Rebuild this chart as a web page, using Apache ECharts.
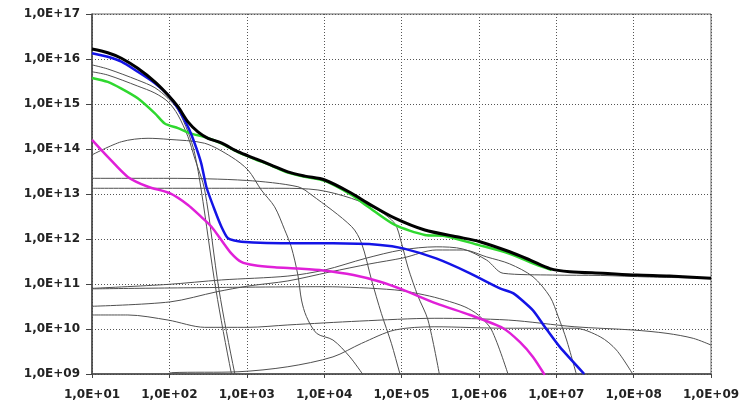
<!DOCTYPE html>
<html>
<head>
<meta charset="utf-8">
<script src="https://cdn.jsdelivr.net/npm/echarts@6/dist/echarts.min.js"></script>
<style>
    html, body { margin: 0; padding: 0; background: #fff; }
    #chart { width: 754px; height: 407px; }
</style>
</head>
<body>
<div id="chart"></div>
<script>
    // tick labels (decades)
    let xTickLabels = ['1,0E+01', '1,0E+02', '1,0E+03', '1,0E+04', '1,0E+05', '1,0E+06', '1,0E+07', '1,0E+08', '1,0E+09'];
    let yTickLabels = ['1,0E+09', '1,0E+10', '1,0E+11', '1,0E+12', '1,0E+13', '1,0E+14', '1,0E+15', '1,0E+16', '1,0E+17'];

    // total (thick black)
    let totalData = [
        [10, 1.67e16], [16, 1.38e16], [24, 1.04e16], [39, 6.2e15], [65, 3.1e15], [96, 1.58e15],
        [129, 8.7e14], [174, 4.0e14], [234, 2.4e14], [316, 1.73e14], [469, 1.37e14], [770, 8.7e13],
        [1260, 6.2e13], [2070, 4.4e13], [3400, 3.1e13], [5650, 2.5e13], [1.02e4, 2.05e13], [2.26e4, 1.04e13],
        [3.7e4, 6.2e12], [8.2e4, 2.9e12], [2.0e5, 1.58e12], [5.2e5, 1.12e12], [1.03e6, 8.7e11], [2.5e6, 5.2e11],
        [4.6e6, 3.4e11], [8.3e6, 2.2e11], [1.5e7, 1.88e11], [4.0e7, 1.73e11], [1.09e8, 1.58e11], [2.9e8, 1.5e11],
        [1e9, 1.34e11]
    ];
    // blue group
    let blueData = [
        [10, 1.34e16], [16, 1.12e16], [24, 8.7e15], [39, 5.2e15], [65, 2.9e15], [96, 1.6e15],
        [129, 8.0e14], [174, 3.1e14], [212, 1.34e14], [258, 4.8e13], [301, 1.43e13],
        [385, 4.4e12], [469, 1.9e12], [572, 1.04e12], [849, 8.7e11], [4580, 8.0e11], [1.3e4, 8.0e11],
        [5.3e4, 7.4e11], [1.05e5, 6.2e11], [2.8e5, 3.7e11], [7.7e5, 1.73e11], [1.87e6, 8.0e10],
        [2.8e6, 6.2e10], [5.0e6, 2.6e10], [7.1e6, 1.12e10], [1.11e7, 4.0e9], [2.3e7, 1.0e9]
    ];
    // green group
    let greenData = [
        [10, 3.8e15], [16, 3.1e15], [24, 2.2e15], [39, 1.34e15], [65, 6.2e14], [87, 3.7e14],
        [129, 2.9e14], [192, 2.2e14], [286, 1.85e14], [469, 1.33e14], [770, 8.5e13], [1260, 6.0e13],
        [2070, 4.3e13], [3400, 3.0e13], [5650, 2.4e13], [1.02e4, 1.95e13], [2.26e4, 9.5e12], [3.7e4, 5.2e12],
        [8.2e4, 2.05e12], [2.0e5, 1.23e12], [3.6e5, 1.17e12], [9.8e5, 7.4e11], [2.4e6, 4.8e11],
        [5.8e6, 2.6e11], [8.7e6, 2.05e11]
    ];
    // magenta group
    let magentaData = [
        [10, 1.6e14], [16, 6.7e13], [29, 2.4e13], [53, 1.45e13], [101, 1.04e13], [174, 5.7e12],
        [258, 3.1e12], [348, 1.9e12], [469, 9.5e11], [631, 4.8e11], [849, 3.1e11], [1260, 2.6e11],
        [2290, 2.35e11], [4580, 2.2e11], [9700, 2.0e11], [2.4e4, 1.58e11], [5.3e4, 1.12e11], [1.05e5, 7.4e10],
        [2.8e5, 3.7e10], [7.7e5, 2.05e10], [2.06e6, 1.04e10], [3.4e6, 5.1e9], [5.0e6, 2.4e9], [7.1e6, 9.5e8]
    ];

    // individual nuclides (thin grey)
    let nuclideA = [
        [10, 7.4e15], [16, 6.0e15], [39, 3.4e15], [65, 2.3e15], [96, 1.34e15], [129, 7.4e14],
        [174, 2.4e14], [212, 8.1e13], [258, 1.23e13], [400, 7.4e10], [631, 1.05e9], [700, 6e8]
    ];
    let nuclideB = [
        [10, 5.2e15], [16, 4.4e15], [39, 2.5e15], [65, 1.75e15], [96, 1.12e15], [129, 5.7e14],
        [174, 1.87e14], [212, 6.3e13], [286, 1.23e13], [438, 7.4e10], [698, 1.05e9], [780, 6e8]
    ];
    let nuclideC = [
        [10, 7.4e13], [24, 1.45e14], [53, 1.73e14], [96, 1.64e14], [286, 1.34e14], [631, 6.7e13],
        [1040, 3.4e13], [1540, 1.23e13], [2290, 5.2e12], [3090, 1.6e12], [3760, 6.7e11], [4580, 1.58e11],
        [5100, 4.4e10], [5900, 1.9e10], [8000, 8.0e9], [1.3e4, 5.7e9], [2.15e4, 2.4e9], [3.2e4, 9.5e8]
    ];
    let nuclideH1 = [
        [10, 2.23e13], [96, 2.23e13], [1000, 2.0e13], [4580, 1.45e13], [6900, 9.5e12], [2.26e4, 1.9e12],
        [3.05e4, 8.0e11], [4.1e4, 1.23e11], [5.5e4, 2.2e10], [7.4e4, 4.8e9], [9.5e4, 1.04e9], [1.05e5, 6e8]
    ];
    let nuclideH2 = [
        [10, 1.34e13], [2690, 1.34e13], [8300, 1.23e13], [2.26e4, 8.0e12], [4.95e4, 4.4e12], [8.2e4, 2.2e12],
        [1.0e5, 8.1e11], [1.22e5, 2.27e11], [1.63e5, 5.4e10], [2.2e5, 1.58e10], [3.1e5, 9.5e8]
    ];
    let nuclideP1 = [
        [10, 8.0e10], [96, 9.8e10], [469, 1.23e11], [3400, 1.5e11], [1.02e4, 2.05e11], [3.4e4, 3.7e11],
        [1.0e5, 5.7e11], [2.8e5, 6.7e11], [6.2e5, 6.0e11], [1.26e6, 3.4e11], [2.06e6, 1.73e11],
        [9.0e6, 1.58e11], [3.7e7, 1.55e11], [1.6e8, 1.43e11], [1e9, 1.34e11]
    ];
    let nuclideP2 = [
        [10, 7.8e10], [1000, 8.5e10], [1e4, 8.7e10], [8.2e4, 7.4e10], [2.0e5, 5.7e10], [3.6e5, 4.4e10],
        [6.6e5, 3.1e10], [9.8e5, 2.05e10], [1.46e6, 9.5e9], [2.4e6, 9.5e8]
    ];
    let nuclideQ = [
        [10, 3.2e10], [102, 4.0e10], [408, 6.7e10], [1040, 9.0e10], [3400, 1.17e11], [1.19e4, 1.85e11],
        [3.9e4, 2.8e11], [1.05e5, 3.8e11], [2.8e5, 5.7e11], [6.3e5, 5.7e11], [1.26e6, 4.0e11],
        [2.5e6, 2.8e11], [5.0e6, 1.45e11], [8.3e6, 5.2e10], [1.06e7, 1.88e10], [1.36e7, 5.7e9], [1.83e7, 9.5e8]
    ];
    let nuclideP4 = [
        [10, 2.05e10], [29, 2.05e10], [96, 1.58e10], [286, 1.09e10], [1040, 1.09e10], [3400, 1.23e10],
        [2.9e4, 1.5e10], [2.7e5, 1.73e10], [2.4e6, 1.58e10], [1.74e7, 1.12e10], [9.8e7, 9.5e9],
        [2.7e8, 8.0e9], [5.9e8, 6.2e9], [1e9, 4.4e9]
    ];
    let nuclideP5 = [
        [90, 9.5e8], [106, 1.07e9], [770, 1.12e9], [3400, 1.45e9], [1.3e4, 2.4e9], [3.05e4, 4.8e9],
        [8.2e4, 9.5e9], [2.7e5, 1.12e10], [2.2e6, 1.04e10], [1.74e7, 1.04e10], [3.7e7, 6.7e9],
        [6.0e7, 3.4e9], [9.9e7, 9.5e8]
    ];

    let greyLines = [nuclideA, nuclideB, nuclideC, nuclideH1, nuclideH2, nuclideP1, nuclideP2, nuclideQ, nuclideP4, nuclideP5];

    function decadeLabel(list, first) {
        return function (v) {
            let i = Math.round(Math.log10(v)) - first;
            return list[i] || '';
        };
    }

    let chart = echarts.init(document.getElementById('chart'));

    let series = greyLines.map(function (d) {
        return {
            type: 'line', data: d, showSymbol: false, smooth: 0.3,
            lineStyle: {color: '#505050', width: 1}, z: 2
        };
    });
    series.push({type: 'line', data: magentaData, showSymbol: false, smooth: 0.25, lineStyle: {color: '#e020d8', width: 2.5}, z: 3});
    series.push({type: 'line', data: greenData, showSymbol: false, smooth: 0.25, lineStyle: {color: '#2fd82f', width: 2.5}, z: 3});
    series.push({type: 'line', data: blueData, showSymbol: false, smooth: 0.2, lineStyle: {color: '#1414e6', width: 2.5}, z: 4});
    series.push({type: 'line', data: totalData, showSymbol: false, smooth: 0.3, lineStyle: {color: '#000', width: 3}, z: 5});

    let labelStyle = {
        fontFamily: 'DejaVu Sans',
        fontWeight: 'bold',
        fontSize: 12,
        color: '#222'
    };

    let option = {
        animation: false,
        grid: {
            left: 92, right: 43, top: 14, bottom: 33,
            show: true, borderColor: '#666', borderWidth: 1
        },
        xAxis: {
            type: 'log', logBase: 10, min: 10, max: 1e9,
            axisLine: {lineStyle: {color: '#444', width: 1.5}},
            axisTick: {show: true, length: 4, lineStyle: {color: '#444'}},
            axisLabel: Object.assign({margin: 15, formatter: decadeLabel(xTickLabels, 1)}, labelStyle),
            splitLine: {show: true, lineStyle: {color: '#555', width: 1, type: [1, 2]}}
        },
        yAxis: {
            type: 'log', logBase: 10, min: 1e9, max: 1e17,
            axisLine: {show: true, lineStyle: {color: '#444', width: 1.5}},
            axisTick: {show: true, length: 6, lineStyle: {color: '#444'}},
            axisLabel: Object.assign({margin: 12, formatter: decadeLabel(yTickLabels, 9)}, labelStyle),
            splitLine: {show: true, lineStyle: {color: '#555', width: 1, type: [1, 2]}}
        },
        series: series
    };
    chart.setOption(option);
</script>
</body>
</html>
